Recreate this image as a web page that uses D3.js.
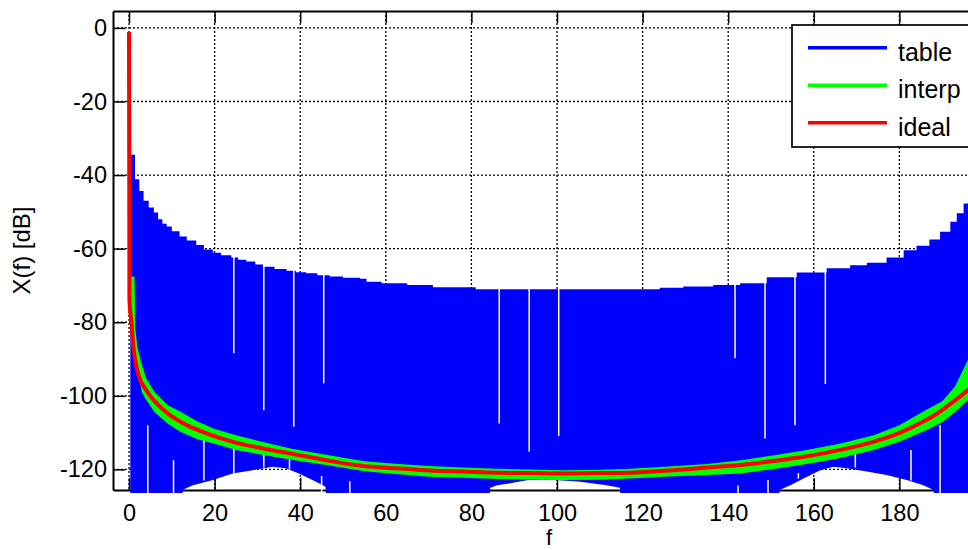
<!DOCTYPE html>
<html><head><meta charset="utf-8">
<script src="https://cdn.jsdelivr.net/npm/d3@7"></script>
<style>body{margin:0;background:#fff;overflow:hidden} svg{display:block} text{font-family:"Liberation Sans",Arial,Helvetica,sans-serif;fill:#000}</style>
</head><body><svg id="c" width="968" height="550"></svg>
<script>
// ---- data ----
const xTicks = [0, 20, 40, 60, 80, 100, 120, 140, 160, 180];
const yTicks = [-120, -100, -80, -60, -40, -20, 0];
const seriesNames = ["table", "interp", "ideal"];
const seriesColors = ["#0000ff", "#00ff00", "#ff0000"];

// "ideal" spectrum
const idealF  = [0, 0.1, 0.5, 1.1, 2.1, 4.0, 6.4, 9.5, 13.4, 18.1, 24.3, 31.3, 38.3, 46.1, 54.8, 62.6, 70.3, 78.1, 85.9, 93.7, 101.5, 109.3, 117, 127.2, 135, 142.8, 150.6, 158.4, 166.2, 173.9, 180.2, 185.6, 189.5, 192.6, 196.5];
const idealDb = [-1.1, -74, -79.4, -87.5, -93.9, -98.4, -102, -105.2, -107.9, -110.2, -112.5, -114.3, -115.8, -117.5, -119.1, -119.7, -120.3, -120.6, -120.9, -121.0, -121.1, -121.0, -120.9, -120.2, -119.5, -118.8, -117.7, -116.4, -114.7, -112.5, -110, -107, -104.3, -101.6, -98];

// "interp" spectrum: upper / lower extent of the dense trace
const interpF  = [0.3, 1.3, 1.5, 2.0, 3.0, 4.0, 6.0, 9.0, 12, 16, 20, 25, 31, 38, 46, 55, 63, 70, 78, 86, 94, 101, 110, 117, 125, 135, 143, 150, 158, 166, 174, 180, 186, 190, 193, 196.5];
const interpHi = [-67.6, -67.6, -82, -87, -91.5, -95.2, -99, -102.5, -104.3, -107, -109, -110.7, -112.5, -114.4, -116, -117.8, -118.5, -119.1, -119.5, -119.8, -120, -120.2, -120.1, -119.8, -119.3, -118.5, -117.5, -116.3, -114.8, -113, -110.7, -108, -104, -101.5, -97.5, -89];
const interpLo = [-80, -86, -88, -93, -99, -101.1, -104.5, -107.5, -109.8, -111.8, -113, -114.7, -116, -117.4, -118.8, -120.5, -121.3, -122, -122.3, -122.6, -122.8, -122.9, -122.8, -122.5, -122, -121.5, -121.1, -120, -118.6, -117, -114.7, -112.5, -109.5, -107.2, -104.5, -100.5];

// "table" spectrum: upper envelope (steps) of the dense trace
const tableHiF  = [0.3, 1.4, 2.4, 3.4, 4.6, 5.8, 6.8, 7.8, 8.8, 10, 11.8, 13.5, 15.7, 17.5, 19.6, 21.5, 23.9, 25.5, 27.4, 29.5, 31.3, 34, 36.8, 39, 41.4, 44, 46.9, 50, 54, 55.5, 59, 65, 71, 81, 122, 124, 129.5, 136.5, 142.8, 149, 156, 163, 168.5, 172.4, 177, 181, 184, 187, 189.5, 191.9, 193.4, 195, 196.5];
const tableHiDb = [-34.5, -41.1, -44.3, -47.0, -48.8, -50.2, -52.0, -53.2, -54.0, -55.3, -56.7, -57.8, -59.0, -60.2, -61.1, -61.8, -62.4, -63.0, -63.5, -64.3, -64.9, -65.5, -66.0, -66.4, -66.7, -67.2, -67.6, -67.9, -68.2, -69.0, -69.4, -69.9, -70.5, -71.0, -71.0, -70.6, -70.3, -69.9, -69.4, -67.8, -66.5, -65.3, -64.5, -63.8, -62.4, -60.4, -59.2, -57.5, -55.4, -52.7, -50.4, -47.7, -46.5];
// lower envelope (values below the axis floor are hidden)
const tableLoF  = [0.3, 12.2, 12.6, 14.9, 19.6, 24.2, 28.9, 33.5, 36.6, 39.7, 43.6, 45.9, 46.3, 84, 84.4, 86, 88.7, 93.3, 99.5, 105, 111.6, 114.7, 115, 151.8, 152, 154.5, 158.4, 161.5, 164.6, 167.7, 172.4, 177, 181.7, 185.6, 188, 188.3, 196.5];
const tableLoDb = [-131, -131, -125.5, -124.3, -122.9, -121.1, -120.2, -119.3, -119.7, -121.1, -123.3, -124.7, -131, -131, -125, -124.3, -123.8, -122.9, -122.9, -123.3, -124.3, -125, -131, -131, -125.6, -124.3, -122, -120.2, -119.3, -119.7, -120.6, -121.5, -122.9, -124.3, -125.6, -131, -131];
// thin empty columns inside the table trace: frequency, top dB, bottom dB
const gapF   = [24.5, 31.5, 38.5, 45.5, 86.5, 93.5, 100.4, 141.6, 148.6, 155.6, 162.7, 4.4, 10.4, 17.5, 24.5, 31.5, 37.5, 45, 51.6, 142.3, 149.3, 156.4, 169.7, 182.7, 189.5];
const gapTop = [-61, -63.5, -65, -66, -70, -70, -70, -68.5, -67.5, -66.5, -65.5, -108, -117.5, -111, -111, -113.8, -116.5, -121.8, -123.2, -124.4, -122.9, -121, -115.2, -114.7, -108];
const gapBot = [-88.4, -103.9, -108.4, -96.6, -107.5, -115.2, -110.9, -89.8, -111.6, -108, -96.8, -127, -127, -123, -121.2, -119.5, -120, -127, -127, -127, -127, -122.5, -119.5, -123, -127];

// ---- drawing ----
const svg = d3.select("#c");
const x = d3.scaleLinear().domain([-3.74, 200]).range([113, 985]);
const y = d3.scaleLinear().domain([-125.6, 4.6]).range([490, 11]);
const [x0, x1] = x.range();
const [yb, yt] = y.range();
const fmt = d => String(d);

// grid
const grid = svg.append("g").attr("stroke", "#000").attr("stroke-width", 1.3).attr("stroke-dasharray", "2,2");
grid.selectAll("line.gx").data(xTicks).join("line").attr("class", "gx")
  .attr("x1", d => x(d)).attr("x2", d => x(d)).attr("y1", yt).attr("y2", yb);
grid.selectAll("line.gy").data(yTicks).join("line").attr("class", "gy")
  .attr("y1", d => y(d)).attr("y2", d => y(d)).attr("x1", x0).attr("x2", x1);

// axes (ticks inward on all sides)
function styleAxis(g) {
  g.select(".domain").attr("stroke-width", 2);
  g.selectAll(".tick line").attr("stroke-width", 1.5);
  g.selectAll("text").attr("font-size", 23.5).attr("fill", "#000");
}
svg.append("g").attr("transform", `translate(0,${yb})`)
  .call(d3.axisBottom(x).tickValues(xTicks).tickSize(-12).tickSizeOuter(0).tickPadding(14).tickFormat(fmt))
  .call(styleAxis);
svg.append("g").attr("transform", `translate(0,${yt})`)
  .call(d3.axisTop(x).tickValues(xTicks).tickSize(-12).tickSizeOuter(0).tickFormat(""))
  .call(styleAxis);
svg.append("g").attr("transform", `translate(${x0},0)`)
  .call(d3.axisLeft(y).tickValues(yTicks).tickSize(-12).tickSizeOuter(0).tickPadding(6).tickFormat(fmt))
  .call(styleAxis);
svg.append("g").attr("transform", `translate(${x1},0)`)
  .call(d3.axisRight(y).tickValues(yTicks).tickSize(-12).tickSizeOuter(0).tickFormat(""))
  .call(styleAxis);

// axis labels
svg.append("text").attr("x", (x0 + x1) / 2).attr("y", 545).attr("text-anchor", "middle").attr("font-size", 22).text("f");
svg.append("text").attr("transform", `translate(30,${(yt + yb) / 2}) rotate(-90)`).attr("text-anchor", "middle").attr("font-size", 24).text("X(f) [dB]");

// clip
svg.append("clipPath").attr("id", "clip").append("rect")
  .attr("x", x0).attr("y", yt).attr("width", x1 - x0).attr("height", yb - yt + 3);
const plot = svg.append("g").attr("clip-path", "url(#clip)");

// table trace: filled envelope
const hiPts = tableHiF.map((f, i) => [f, tableHiDb[i]]);
const loPts = tableLoF.map((f, i) => [f, tableLoDb[i]]).reverse();
const hiLine = d3.line().x(d => x(d[0])).y(d => y(d[1])).curve(d3.curveStepAfter);
const loLine = d3.line().x(d => x(d[0])).y(d => y(d[1]));
plot.append("path")
  .attr("d", hiLine(hiPts) + loLine(loPts).replace(/^M/, "L") + "Z")
  .attr("fill", seriesColors[0]);
plot.append("g").attr("stroke", "#fff").attr("stroke-width", 1.5)
  .selectAll("line").data(gapF).join("line")
  .attr("x1", d => x(d)).attr("x2", d => x(d))
  .attr("y1", (d, i) => y(gapTop[i])).attr("y2", (d, i) => y(gapBot[i]));

// interp trace
const interpArea = d3.area().x((d, i) => x(interpF[i])).y0((d, i) => y(interpLo[i])).y1((d, i) => y(interpHi[i]));
plot.append("path").attr("d", interpArea(interpF)).attr("fill", seriesColors[1]);

// ideal trace
const idealLine = d3.line().x((d, i) => x(idealF[i])).y((d, i) => y(idealDb[i])).curve(d3.curveMonotoneX);
plot.append("path").attr("d", idealLine(idealF)).attr("fill", "none")
  .attr("stroke", seriesColors[2]).attr("stroke-width", 4).attr("stroke-linejoin", "round");

// legend
const lg = svg.append("g").attr("transform", "translate(792,25)");
lg.append("rect").attr("width", 180).attr("height", 122).attr("fill", "#fff").attr("stroke", "#000").attr("stroke-width", 1.7);
const rows = lg.selectAll("g.row").data(seriesNames).join("g").attr("class", "row")
  .attr("transform", (d, i) => `translate(0,${22.7 + i * 37.5})`);
rows.append("line").attr("x1", 16).attr("x2", 95).attr("y1", 0).attr("y2", 0)
  .attr("stroke", (d, i) => seriesColors[i]).attr("stroke-width", 3.5);
rows.append("text").attr("x", 106).attr("y", 13).attr("font-size", 25).text(d => d);
</script>
</body></html>
